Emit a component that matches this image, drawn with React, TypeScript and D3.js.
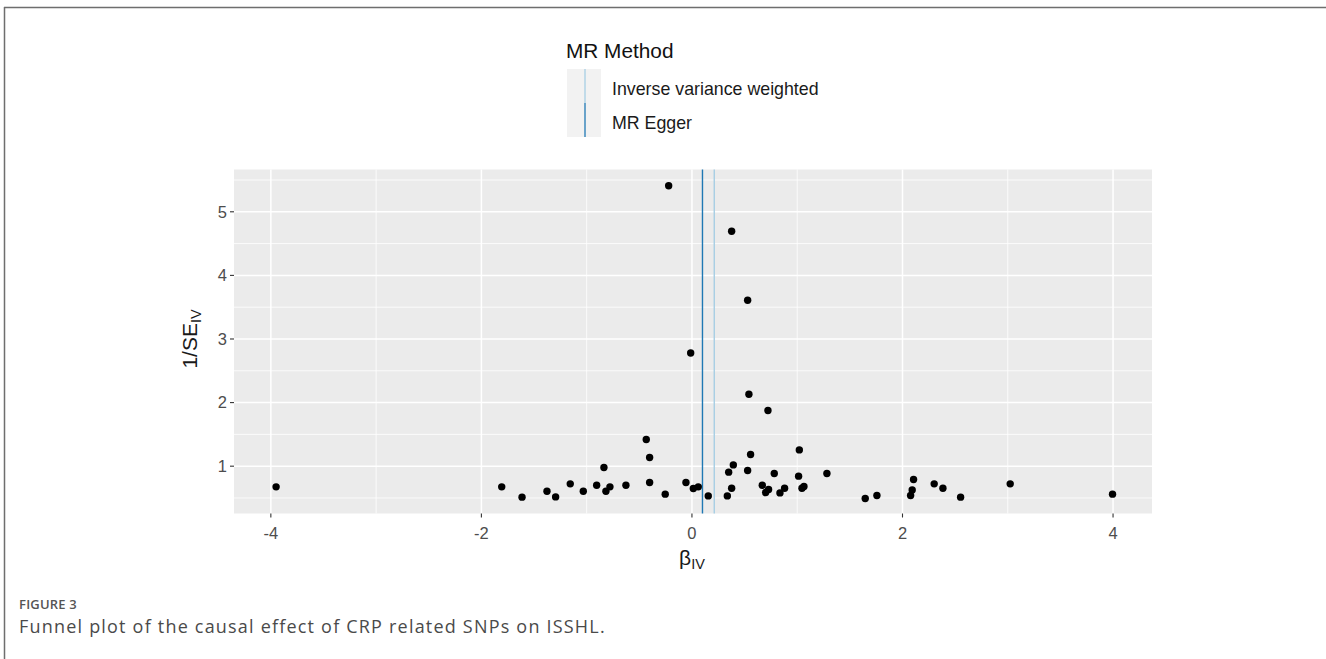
import React from "react";
import * as d3 from "d3";

const betaIV: number[] = [
  -3.95, -0.221, 0.377, 0.529, -0.012,
  -1.377, -1.295, -1.156, -1.032, -0.905, -0.836, -0.817, -0.779, -0.627,
  -0.434, -0.402, -0.402, -0.254, -0.057, 0.013, 0.06, 0.155, 0.336, 0.349,
  0.377, 0.393, 0.529, 0.541, 0.557, 0.722, 0.668, 0.70, 0.728, 0.782, 0.836,
  0.88, 1.02, 1.013, 1.045, 1.064, 1.282,
  -1.807, -1.614,
  1.646, 1.757, 2.105, 2.092, 2.077, 2.301, 2.384, 2.552, 3.023, 3.995,
];
const invSE: number[] = [
  0.675, 5.41, 4.695, 3.61, 2.78,
  0.607, 0.517, 0.722, 0.607, 0.70, 0.98, 0.607, 0.675, 0.70,
  1.42, 1.137, 0.743, 0.56, 0.743, 0.65, 0.675, 0.533, 0.533, 0.906,
  0.654, 1.02, 0.932, 2.13, 1.184, 1.875, 0.70, 0.586, 0.633, 0.885, 0.58,
  0.654, 1.256, 0.843, 0.654, 0.68, 0.885,
  0.675, 0.513,
  0.492, 0.539, 0.79, 0.627, 0.539, 0.722, 0.654, 0.513, 0.722, 0.56,
];
const methods: string[] = ["Inverse variance weighted", "MR Egger"];
const methodColors: string[] = ["#a6cee3", "#1f78b4"];
const methodEstimates: number[] = [0.212, 0.10];
const xTicks: number[] = [-4, -2, 0, 2, 4];
const xMinor: number[] = [-3, -1, 1, 3];
const yTicks: number[] = [1, 2, 3, 4, 5];
const yMinor: number[] = [0.5, 1.5, 2.5, 3.5, 4.5, 5.5];

const W = 1326;
const H = 659;
const P = { left: 234, right: 1152, top: 169.5, bottom: 513.5 };

export default function App() {
  const x = d3.scaleLinear().domain([-4.35, 4.37]).range([P.left, P.right]);
  const y = d3.scaleLinear().domain([0.256, 5.665]).range([P.bottom, P.top]);
  const font = "'Liberation Sans', Arial, sans-serif";
  const capFont = "'Open Sans', 'Noto Sans', sans-serif";
  const tickCol = "#4d4d4d";
  return (
    <svg
      width={W}
      height={H}
      style={{ position: "absolute", left: 0, top: 0, background: "#fff" }}
    >
      {/* frame */}
      <line x1={4} x2={W} y1={7.5} y2={7.5} stroke="#6e6e6e" strokeWidth={1.5} />
      <line x1={4.5} x2={4.5} y1={7} y2={H} stroke="#6e6e6e" strokeWidth={1.5} />

      {/* legend */}
      <text x={566} y={58} fontFamily={font} fontSize={20.8} fill="#111">
        MR Method
      </text>
      {methods.map((m, i) => (
        <g key={m}>
          <rect x={567} y={69 + i * 34} width={34} height={34} fill="#f2f2f2" />
          <line
            x1={585}
            x2={585}
            y1={69 + i * 34}
            y2={103 + i * 34}
            stroke={methodColors[i]}
            strokeWidth={1.3}
          />
          <text
            x={612}
            y={89 + i * 34}
            dy="0.35em"
            fontFamily={font}
            fontSize={17.8}
            fill="#1a1a1a"
          >
            {m}
          </text>
        </g>
      ))}

      {/* panel */}
      <rect
        x={P.left}
        y={P.top}
        width={P.right - P.left}
        height={P.bottom - P.top}
        fill="#ebebeb"
      />
      {yMinor.map((v) => (
        <line key={"ym" + v} x1={P.left} x2={P.right} y1={y(v)} y2={y(v)} stroke="#fff" strokeWidth={0.8} />
      ))}
      {xMinor.map((v) => (
        <line key={"xm" + v} x1={x(v)} x2={x(v)} y1={P.top} y2={P.bottom} stroke="#fff" strokeWidth={0.8} />
      ))}
      {yTicks.map((v) => (
        <line key={"yM" + v} x1={P.left} x2={P.right} y1={y(v)} y2={y(v)} stroke="#fff" strokeWidth={1.5} />
      ))}
      {xTicks.map((v) => (
        <line key={"xM" + v} x1={x(v)} x2={x(v)} y1={P.top} y2={P.bottom} stroke="#fff" strokeWidth={1.5} />
      ))}

      {/* method lines */}
      {methodEstimates.map((v, i) => (
        <line
          key={"m" + i}
          x1={x(v)}
          x2={x(v)}
          y1={P.top}
          y2={P.bottom}
          stroke={methodColors[i]}
          strokeWidth={1.4}
        />
      ))}

      {/* points */}
      {betaIV.map((b, i) => (
        <circle key={"p" + i} cx={x(b)} cy={y(invSE[i])} r={3.7} fill="#000" />
      ))}

      {/* axes */}
      {xTicks.map((v) => (
        <g key={"xt" + v}>
          <line x1={x(v)} x2={x(v)} y1={P.bottom} y2={P.bottom + 4} stroke="#333" strokeWidth={1.1} />
          <text
            x={x(v)}
            y={P.bottom + 25}
            textAnchor="middle"
            fontFamily={font}
            fontSize={16.5}
            fill={tickCol}
          >
            {v}
          </text>
        </g>
      ))}
      {yTicks.map((v) => (
        <g key={"yt" + v}>
          <line x1={P.left - 4} x2={P.left} y1={y(v)} y2={y(v)} stroke="#333" strokeWidth={1.1} />
          <text
            x={P.left - 7}
            y={y(v)}
            dy="0.35em"
            textAnchor="end"
            fontFamily={font}
            fontSize={16.5}
            fill={tickCol}
          >
            {v}
          </text>
        </g>
      ))}

      {/* axis titles */}
      <text x={692} y={565} textAnchor="middle" fontFamily={font} fontSize={21} fill="#1a1a1a">
        β
        <tspan fontSize={14.5} dy={4}>
          IV
        </tspan>
      </text>
      <text
        transform={`translate(197, ${y(3)}) rotate(-90)`}
        textAnchor="middle"
        fontFamily={font}
        fontSize={21}
        fill="#1a1a1a"
      >
        1/SE
        <tspan fontSize={14.5} dy={4}>
          IV
        </tspan>
      </text>

      {/* caption */}
      <text x={19} y={609} fontFamily={capFont} fontSize={13} fontWeight={600} fill="#555" letterSpacing={0.2}>
        FIGURE 3
      </text>
      <text x={19} y={633} fontFamily={capFont} fontSize={18} fill="#4a4a4a" letterSpacing={1.2}>
        Funnel plot of the causal effect of CRP related SNPs on ISSHL.
      </text>
    </svg>
  );
}
